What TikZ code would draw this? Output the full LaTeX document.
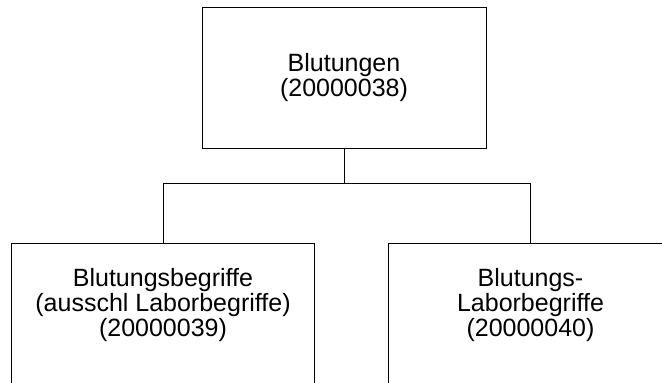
\documentclass[tikz,border=0pt]{standalone}
\usepackage{fontspec}
\setmainfont{Liberation Sans}
\usetikzlibrary{positioning}

\begin{document}
\begin{tikzpicture}[
        x=1pt, y=1pt,
        box/.style={rectangle, draw, line width=0.8pt, align=center, inner sep=0pt, minimum height=141pt, font={\fontsize{25}{25}\selectfont}},
        lowbox/.style={box, text depth=23pt},
        line/.style={draw, line width=0.8pt}
    ]
    \clip (0,0) rectangle (662,383);

    % nodes
    \node[box, minimum width=284pt] (bleed) at (344,305.5) {Blutungen\\(20000038)};
    \node[lowbox, minimum width=303.4pt, below=95pt of bleed, xshift=-181pt] (terms) {Blutungsbegriffe\\(ausschl Laborbegriffe)\\(20000039)};
    \node[lowbox, minimum width=284pt, below=95pt of bleed, xshift=186.5pt] (lab) {Blutungs-\\Laborbegriffe\\(20000040)};

    % lines
    \coordinate (fork) at ([yshift=-35pt]bleed.south);
    \path[line] (bleed.south) -- (fork);
    \path[line] (fork) -| (terms.north);
    \path[line] (fork) -| (lab.north);

\end{tikzpicture}
\end{document}
